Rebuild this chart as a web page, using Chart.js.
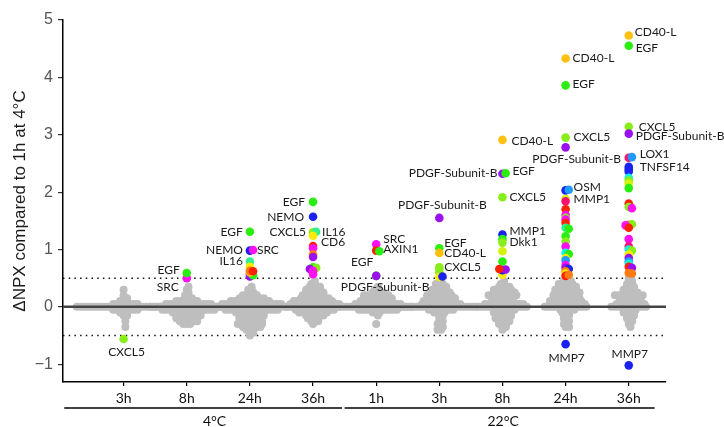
<!DOCTYPE html>
<html>
<head>
<meta charset="utf-8">
<script src="https://cdn.jsdelivr.net/npm/chart.js@4.4.1/dist/chart.umd.min.js"></script>
<style>
  html, body { margin: 0; padding: 0; background: #fff; }
  #wrap { width: 724px; height: 427px; }
</style>
</head>
<body>
<div id="wrap"><canvas id="npxChart" width="724" height="427"></canvas></div>
<script>
// time points, two temperature groups
const catLabels = ['3h', '8h', '24h', '36h', '1h', '3h', '8h', '24h', '36h'];
const groupNames = ['4°C', '22°C'];
const groupFrom = [0.06, 4.5];
const groupTo = [4.46, 9.41];
const groupMid = [2.44, 7.01];
const yTicks = [-1, 0, 1, 2, 3, 4, 5];
const cutoff = 0.5;

// grey swarm: number of proteins per dNPX bin, one row per time point
const grayBins = [0.5, 0.45, 0.4, 0.35, 0.3, 0.25, 0.2, 0.15, 0.1, 0.05, 0, -0.05, -0.1, -0.15, -0.2, -0.25, -0.3, -0.35, -0.4, -0.45, -0.5, -0.55];
const gray4_3h   = [0,0,0,0,1,0,1,2,3,8,28,8,3,2,0,1,0,1,0,0,0,0];
const gray4_8h   = [0,0,0,1,1,1,2,3,7,14,22,16,9,8,7,6,3,0,0,0,0,0];
const gray4_24h  = [0,0,0,1,2,2,5,8,12,18,22,16,9,8,7,7,8,6,3,2,1,0];
const gray4_36h  = [0,1,2,4,5,6,7,9,12,15,16,12,9,6,4,3,1,0,0,0,0,0];
const gray22_1h  = [0,0,0,1,2,4,8,9,10,14,22,12,3,1,0,0,1,0,0,0,0,0];
const gray22_3h  = [0,1,3,4,5,6,8,9,10,12,22,8,4,2,1,2,2,2,2,0,0,0];
const gray22_8h  = [0,1,2,4,6,7,9,6,7,12,15,7,6,5,5,4,3,2,1,0,0,0];
const gray22_24h = [1,3,5,6,7,8,8,8,10,11,13,5,3,2,2,2,2,2,0,0,0,0];
const gray22_36h = [1,2,2,3,4,5,9,7,6,9,11,4,4,3,2,2,1,1,0,0,0,0];

// proteins beyond the cutoff: [dNPX, colour, label]
const col4_3h = [[-0.56, 'lime', 'CXCL5']];
const col4_8h = [[0.50, 'magenta', 'SRC'], [0.59, 'green', 'EGF']];
const col4_24h = [[1.31, 'green', 'EGF'], [0.98, 'blue', 'NEMO'], [0.99, 'magenta', 'SRC'], [0.79, 'spring', 'IL16'],
  [0.70, 'yellow'], [0.57, 'magenta'], [0.53, 'purple'], [0.55, 'green'], [0.60, 'gold'], [0.63, 'orange'], [0.62, 'red']];
const col4_36h = [[1.83, 'green', 'EGF'], [1.57, 'blue', 'NEMO'], [1.30, 'lime', 'CXCL5'], [1.31, 'spring', 'IL16'],
  [1.24, 'yellow'], [1.06, 'red', 'CD6'], [1.02, 'magenta'], [0.91, 'orange'], [0.87, 'purple'], [0.69, 'green'],
  [0.68, 'lime'], [0.66, 'purple'], [0.63, 'magenta'], [0.57, 'magenta']];
const col22_1h = [[1.09, 'magenta', 'SRC'], [0.98, 'red', 'AXIN1'], [0.97, 'green'], [0.54, 'green', 'EGF'], [0.54, 'purple', 'PDGF-Subunit-B']];
const col22_3h = [[1.55, 'purple', 'PDGF-Subunit-B'], [1.02, 'green', 'EGF'], [0.94, 'gold', 'CD40-L'], [0.69, 'lime', 'CXCL5'],
  [0.65, 'lime'], [0.60, 'lime'], [0.52, 'yellow'], [0.53, 'blue']];
const col22_8h = [[2.91, 'gold', 'CD40-L'], [2.32, 'purple', 'PDGF-Subunit-B'], [2.33, 'green', 'EGF'], [1.91, 'lime', 'CXCL5'],
  [1.26, 'blue', 'MMP1'], [1.18, 'green', 'Dkk1'], [1.12, 'lime'], [0.97, 'ylime'], [0.79, 'green'], [0.56, 'yellow'],
  [0.64, 'blue'], [0.65, 'purple'], [0.66, 'red']];
const col22_24h = [[4.33, 'gold', 'CD40-L'], [3.86, 'green', 'EGF'], [2.95, 'lime', 'CXCL5'], [2.78, 'purple', 'PDGF-Subunit-B'],
  [2.03, 'blue'], [2.04, 'sky', 'OSM'], [1.88, 'ylime', 'MMP1'], [1.84, 'rose'], [1.70, 'red'], [1.60, 'magenta'],
  [1.55, 'lime'], [1.52, 'magenta'], [1.46, 'red'], [1.38, 'spring'], [1.36, 'green'], [1.23, 'green'], [1.14, 'lime'],
  [1.05, 'magenta'], [0.94, 'cyan'], [0.92, 'green'], [0.85, 'yellow'], [0.81, 'sky'], [0.73, 'magenta'], [0.68, 'purple'],
  [0.66, 'blue'], [0.62, 'orange'], [0.58, 'yellow'], [0.54, 'red'], [0.56, 'orange'], [-0.65, 'blue', 'MMP7']];
const col22_36h = [[4.73, 'gold', 'CD40-L'], [4.55, 'green', 'EGF'], [3.14, 'lime', 'CXCL5'], [3.02, 'purple', 'PDGF-Subunit-B'],
  [2.60, 'rose'], [2.61, 'sky', 'LOX1'], [2.44, 'blue', 'TNFSF14'], [2.40, 'blue'], [2.36, 'blue'], [2.25, 'cyan'],
  [2.20, 'lime'], [2.15, 'ylime'], [2.07, 'green'], [1.80, 'red'], [1.74, 'lime'], [1.72, 'magenta'], [1.43, 'orange'],
  [1.44, 'lime'], [1.42, 'magenta'], [1.38, 'red'], [1.18, 'magenta'], [1.05, 'rose'], [1.00, 'cyan'], [0.98, 'lime'],
  [0.91, 'yellow'], [0.85, 'purple'], [0.79, 'sky'], [0.75, 'cyan'], [0.70, 'red'], [0.68, 'purple'], [0.59, 'orange'],
  [0.58, 'orange'], [-1.02, 'blue', 'MMP7']];

const grayAll = [gray4_3h, gray4_8h, gray4_24h, gray4_36h, gray22_1h, gray22_3h, gray22_8h, gray22_24h, gray22_36h];
const colAll = [col4_3h, col4_8h, col4_24h, col4_36h, col22_1h, col22_3h, col22_8h, col22_24h, col22_36h];

const palette = {
  red: '#FF2200', orange: '#FF7A10', gold: '#FFC010', yellow: '#F8EC00', ylime: '#D4F20A',
  lime: '#88EE1A', green: '#2AEE10', spring: '#30F090', cyan: '#10F0E0', sky: '#1E9BFF',
  blue: '#1A22F0', purple: '#9A10F0', magenta: '#FF10F0', rose: '#FF1070'
};

// where each name sits next to its dot: [time point, name, dx, dy, align]
const labelSpots = [
  [1, 'CXCL5', 3, 13, 'center'],
  [2, 'EGF', -7, -3, 'right'], [2, 'SRC', -8, 9, 'right'],
  [3, 'EGF', -7, 0, 'right'], [3, 'NEMO', -7, 0, 'right'], [3, 'SRC', 7, 0, 'left'], [3, 'IL16', -7, 0, 'right'],
  [4, 'EGF', -8, 0, 'right'], [4, 'NEMO', -9, 0, 'right'], [4, 'CXCL5', -7, 0, 'right'], [4, 'IL16', 9, 0, 'left'], [4, 'CD6', 8, -4, 'left'],
  [5, 'SRC', 7, -5, 'left'], [5, 'AXIN1', 7, -1, 'left'], [5, 'EGF', -3, -14, 'right'], [5, 'PDGF-Subunit-B', 9, 11, 'center'],
  [6, 'PDGF-Subunit-B', 3, -13, 'center'], [6, 'EGF', 5, -5, 'left'], [6, 'CD40-L', 5, 0, 'left'], [6, 'CXCL5', 5, 0, 'left'],
  [7, 'CD40-L', 9, 1, 'left'], [7, 'EGF', 10, -2, 'left'], [7, 'PDGF-Subunit-B', -5, -1, 'right'], [7, 'CXCL5', 7, 0, 'left'],
  [7, 'MMP1', 7, -3, 'left'], [7, 'Dkk1', 7, 3, 'left'],
  [8, 'CD40-L', 7, 0, 'left'], [8, 'EGF', 7, -1, 'left'], [8, 'CXCL5', 8, 0, 'left'], [8, 'PDGF-Subunit-B', 11, 12, 'center'],
  [8, 'OSM', 8, -3, 'left'], [8, 'MMP1', 8, 0, 'left'], [8, 'MMP7', 1, 14, 'center'],
  [9, 'CD40-L', 6, -3, 'left'], [9, 'EGF', 7, 2, 'left'], [9, 'CXCL5', 10, 0, 'left'], [9, 'PDGF-Subunit-B', 7, 3, 'left'],
  [9, 'LOX1', 11, -3, 'left'], [9, 'TNFSF14', 11, 0, 'left'], [9, 'MMP7', 1, -11, 'center']
];

const X_MIN = 0.04, X_MAX = 9.59;
const swarmStep = 0.055;

// lay the grey rows out side by side, every other row shifted half a step
const grayPts = [];
grayAll.forEach((counts, ci) => {
  counts.forEach((n, bi) => {
    const shift = (bi % 2) * swarmStep / 2;
    for (let j = 0; j < n; j++) {
      grayPts.push({x: ci + 1 + shift + (j - (n - 1) / 2) * swarmStep, y: grayBins[bi]});
    }
  });
});

// coloured dots: nudge sideways when two values nearly coincide
const colPts = [], colColors = [];
colAll.forEach((list, ci) => {
  const placed = [];
  list.forEach(p => {
    let off = 0;
    for (const cand of [0, 0.05, -0.05, 0.1, -0.1]) {
      const clash = placed.some(q => q.off === cand && Math.abs(q.y - p[0]) < 0.03 && q.y !== p[0]);
      if (!clash) { off = cand; break; }
    }
    placed.push({y: p[0], off: off});
    colPts.push({x: ci + 1 + off, y: p[0]});
    colColors.push(palette[p[1]]);
  });
});

const nameLabels = {
  id: 'nameLabels',
  afterDatasetsDraw(chart) {
    const {ctx, scales: {x, y}} = chart;
    ctx.save();
    ctx.font = '12px Lato';
    ctx.fillStyle = '#1a1a1a';
    ctx.textBaseline = 'middle';
    labelSpots.forEach(([cat, name, dx, dy, align]) => {
      const p = colAll[cat - 1].find(d => d[2] === name);
      if (!p) return;
      ctx.textAlign = align;
      ctx.fillText(name, x.getPixelForValue(cat) + dx, y.getPixelForValue(p[0]) + dy);
    });
    ctx.restore();
  }
};

const groupAxis = {
  id: 'groupAxis',
  afterDraw(chart) {
    const {ctx, scales: {x}} = chart;
    ctx.save();
    ctx.strokeStyle = '#000';
    ctx.lineWidth = 1.3;
    ctx.fillStyle = '#111';
    ctx.font = '14px Lato';
    ctx.textAlign = 'center';
    ctx.textBaseline = 'middle';
    groupNames.forEach((g, i) => {
      ctx.beginPath();
      ctx.moveTo(x.getPixelForValue(groupFrom[i]), 408);
      ctx.lineTo(x.getPixelForValue(groupTo[i]), 408);
      ctx.stroke();
      ctx.fillText(g, x.getPixelForValue(groupMid[i]), 421);
    });
    ctx.restore();
  }
};

new Chart(document.getElementById('npxChart'), {
  type: 'scatter',
  data: {
    datasets: [
      {
        label: 'changed',
        data: colPts,
        backgroundColor: colColors,
        pointRadius: 4.3,
        pointBorderWidth: 0,
        order: 0
      },
      {
        label: 'zero',
        data: [{x: X_MIN, y: 0}, {x: X_MAX, y: 0}],
        showLine: true,
        borderColor: '#444',
        borderWidth: 2.5,
        pointRadius: 0,
        order: 1
      },
      {
        label: 'unchanged',
        data: grayPts,
        backgroundColor: '#BEBEBE',
        pointRadius: 4,
        pointBorderWidth: 0,
        order: 2
      },
      {
        label: 'upper',
        data: [{x: X_MIN, y: cutoff}, {x: X_MAX, y: cutoff}],
        showLine: true,
        borderColor: '#111',
        borderWidth: 1.5,
        borderDash: [1.5, 4.2],
        pointRadius: 0,
        order: 3
      },
      {
        label: 'lower',
        data: [{x: X_MIN, y: -cutoff}, {x: X_MAX, y: -cutoff}],
        showLine: true,
        borderColor: '#111',
        borderWidth: 1.5,
        borderDash: [1.5, 4.2],
        pointRadius: 0,
        order: 3
      }
    ]
  },
  options: {
    responsive: false,
    animation: false,
    devicePixelRatio: 1,
    layout: {padding: {top: 20, right: 58, left: 0, bottom: 0}},
    plugins: {legend: {display: false}, tooltip: {enabled: false}},
    scales: {
      x: {
        type: 'linear',
        min: X_MIN,
        max: X_MAX,
        afterFit: s => { s.height = 45; },
        afterBuildTicks: s => { s.ticks = catLabels.map((c, i) => ({value: i + 1})); },
        ticks: {
          callback: (v, i) => catLabels[i],
          font: {family: 'Lato', size: 14},
          color: '#111',
          padding: 4,
          maxRotation: 0,
          autoSkip: false
        },
        grid: {drawOnChartArea: false, tickLength: 4, color: '#000', lineWidth: 1.2},
        border: {display: true, color: '#000', width: 1.5}
      },
      y: {
        min: -1.31,
        max: 5,
        afterFit: s => { s.width = 63; },
        afterBuildTicks: s => { s.ticks = yTicks.map(v => ({value: v})); },
        ticks: {
          callback: v => (v < 0 ? '\u2212' + Math.abs(v) : String(v)),
          font: {family: 'Liberation Sans', size: 16},
          color: '#555',
          padding: 5
        },
        grid: {drawOnChartArea: false, tickLength: 5, color: '#333', lineWidth: 1.2},
        border: {display: true, color: '#000', width: 1.5},
        title: {
          display: true,
          text: 'ΔNPX compared to 1h at 4°C',
          font: {family: 'Liberation Sans', size: 17},
          color: '#1a1a1a',
          padding: {top: 10, bottom: 0}
        }
      }
    }
  },
  plugins: [nameLabels, groupAxis]
});
</script>
</body>
</html>
